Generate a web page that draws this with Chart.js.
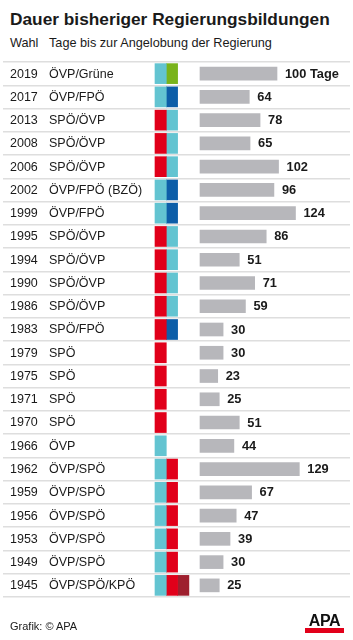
<!DOCTYPE html>
<html>
<head>
<meta charset="utf-8">
<script src="https://cdn.jsdelivr.net/npm/chart.js@4/dist/chart.umd.min.js"></script>
<style>
    body { margin: 0; background: #fff; font-family: "Liberation Sans", Arial, sans-serif; color: #1a1a1a; }
    #wrap { position: relative; width: 353px; height: 640px; overflow: hidden; }
    #title { position: absolute; left: 10px; top: 9px; font-size: 17.3px; font-weight: bold; }
    .sub { position: absolute; top: 36px; font-size: 12.7px; }
    #foot { position: absolute; left: 10px; top: 620px; font-size: 11px; }
    #logo { position: absolute; left: 305px; top: 614px; width: 39px; }
    #logo .txt { font-size: 16px; font-weight: bold; line-height: 14px; text-align: center; letter-spacing: -0.3px; color: #111; }
    #logo .bar { height: 5px; background: #e2001a; margin-top: 0px; }
    canvas { position: absolute; left: 0; top: 0; }
</style>
</head>
<body>
<div id="wrap">
    <div id="title">Dauer bisheriger Regierungsbildungen</div>
    <div class="sub" style="left:10px">Wahl</div>
    <div class="sub" style="left:49px">Tage bis zur Angelobung der Regierung</div>
    <canvas id="chart" width="353" height="640"></canvas>
    <div id="foot">Grafik: © APA</div>
    <div id="logo"><div class="txt">APA</div><div class="bar"></div></div>
</div>
<script>
// Daten
const years = ['2019', '2017', '2013', '2008', '2006', '2002', '1999', '1995', '1994', '1990', '1986', '1983',
    '1979', '1975', '1971', '1970', '1966', '1962', '1959', '1956', '1953', '1949', '1945'];
const coalitions = ['ÖVP/Grüne', 'ÖVP/FPÖ', 'SPÖ/ÖVP', 'SPÖ/ÖVP', 'SPÖ/ÖVP', 'ÖVP/FPÖ (BZÖ)', 'ÖVP/FPÖ',
    'SPÖ/ÖVP', 'SPÖ/ÖVP', 'SPÖ/ÖVP', 'SPÖ/ÖVP', 'SPÖ/FPÖ', 'SPÖ', 'SPÖ', 'SPÖ', 'SPÖ', 'ÖVP',
    'ÖVP/SPÖ', 'ÖVP/SPÖ', 'ÖVP/SPÖ', 'ÖVP/SPÖ', 'ÖVP/SPÖ', 'ÖVP/SPÖ/KPÖ'];
const days = [100, 64, 78, 65, 102, 96, 124, 86, 51, 71, 59, 30, 30, 23, 25, 51, 44, 129, 67, 47, 39, 30, 25];

// Parteifarben
const PARTY_COLORS = {
    'ÖVP': '#63c4d1',
    'SPÖ': '#e1001a',
    'FPÖ': '#0d5ea8',
    'Grüne': '#79b31b',
    'KPÖ': '#9e1f2e'
};

const parties = coalitions.map(c => c.replace(' (BZÖ)', '').split('/'));

// drei gestapelte Blöcke je Zeile
const partyDatasets = [0, 1, 2].map(k => ({
    xAxisID: 'xp',
    data: parties.map(p => p[k] ? 1 : null),
    backgroundColor: parties.map(p => PARTY_COLORS[p[k]] || '#ccc'),
    barThickness: 20,
    borderWidth: 0
}));

// Layout der Skalen (Pixel im Diagrammbereich)
const AREA_L = 3, AREA_R = 350;
const DAY_PX = 0.77, DAY_X0 = 200;
const BLOCK_PX = 11.3, BLOCK_X0 = 155;
const dayMin = -(DAY_X0 - AREA_L) / DAY_PX;
const blockMin = -(BLOCK_X0 - AREA_L) / BLOCK_PX;

const rowLabels = {
    id: 'rowLabels',
    afterDatasetsDraw(chart) {
        const { ctx, scales } = chart;
        const y = scales.y;
        const meta = chart.getDatasetMeta(3);
        ctx.save();
        ctx.textBaseline = 'middle';
        ctx.fillStyle = '#1a1a1a';
        years.forEach((yr, i) => {
            const py = y.getPixelForValue(i) + 0.5;
            ctx.font = '12.5px "Liberation Sans", Arial, sans-serif';
            ctx.textAlign = 'left';
            ctx.fillText(yr, 10, py);
            ctx.fillText(coalitions[i], 49, py);
            ctx.font = 'bold 12.8px "Liberation Sans", Arial, sans-serif';
            const bar = meta.data[i];
            ctx.fillText(days[i] + (i === 0 ? ' Tage' : ''), bar.x + 8, py);
        });
        ctx.restore();
    }
};

new Chart(document.getElementById('chart'), {
    type: 'bar',
    data: {
        labels: years,
        datasets: [
            ...partyDatasets,
            {
                xAxisID: 'x',
                data: days,
                backgroundColor: '#b7b7bb',
                barThickness: 13,
                borderWidth: 0
            }
        ]
    },
    options: {
        indexAxis: 'y',
        responsive: false,
        animation: false,
        layout: { padding: { top: 62, bottom: 43, left: AREA_L, right: 353 - AREA_R } },
        plugins: { legend: { display: false }, tooltip: { enabled: false } },
        scales: {
            y: {
                stacked: true,
                ticks: { display: false },
                grid: { offset: true, drawTicks: false, color: '#dedede', lineWidth: 1.5 },
                border: { display: false }
            },
            x: {
                display: false,
                min: dayMin,
                max: dayMin + (AREA_R - AREA_L) / DAY_PX
            },
            xp: {
                display: false,
                stacked: true,
                axis: 'x',
                min: blockMin,
                max: blockMin + (AREA_R - AREA_L) / BLOCK_PX
            }
        }
    },
    plugins: [rowLabels]
});
</script>
</body>
</html>
